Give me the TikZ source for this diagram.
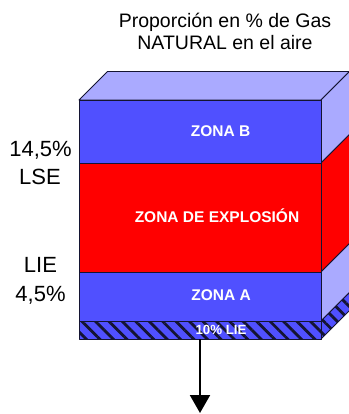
\documentclass[tikz,border=0pt]{standalone}
\usepackage{fontspec}
\setmainfont{Liberation Sans}
\usetikzlibrary{patterns.meta,arrows.meta}
\definecolor{zblue}{RGB}{80,80,255}
\definecolor{zlight}{RGB}{170,170,255}
\definecolor{zred}{RGB}{255,0,0}
\definecolor{zline}{RGB}{20,20,50}
\tikzset{
  face/.style={draw=zline, line width=0.9pt, line join=round},
  hatchface/.style={face, fill=zblue, postaction={pattern={Lines[angle=-45,distance=9.5pt,line width=2.8pt]}, pattern color=zline}},
  zonetext/.style={font=\bfseries\fontsize{15.5}{18}\selectfont, text=white, anchor=base, inner sep=0pt},
  sidetext/.style={font=\fontsize{22}{26}\selectfont, anchor=base, inner sep=0pt},
  titletext/.style={font=\fontsize{19.5}{22}\selectfont, anchor=base, inner sep=0pt},
  arrowline/.style={line width=2pt, -{Triangle[width=20pt,length=18pt]}}
}
\begin{document}
\begin{tikzpicture}[x=1pt,y=-1pt]
\useasboundingbox (0,0) rectangle (348,414);
% top face
\filldraw[face, fill=zlight] (79,100) -- (107.5,71.5) -- (349.5,71.5) -- (321,100) -- cycle;
% right faces
\filldraw[face, fill=zlight] (321,100) -- (349.5,71.5) -- (349.5,134.5) -- (321,163) -- cycle;
\filldraw[face, fill=zred] (321,163) -- (349.5,134.5) -- (349.5,243.5) -- (321,272) -- cycle;
\filldraw[face, fill=zlight] (321,272) -- (349.5,243.5) -- (349.5,292.5) -- (321,321) -- cycle;
\draw[hatchface] (321,321) -- (349.5,292.5) -- (349.5,310.5) -- (321,339) -- cycle;
% front faces
\filldraw[face, fill=zblue] (79,100) rectangle (321,163);
\filldraw[face, fill=zred] (79,163) rectangle (321,272);
\filldraw[face, fill=zblue] (79,272) rectangle (321,321);
\draw[hatchface] (79,321) rectangle (321,339);
% texts
\node[zonetext] (zb) at (220.5,137) {ZONA B};
\node[zonetext] (zx) at (217,222.5) {ZONA DE EXPLOSIÓN};
\node[zonetext] (za) at (221,300) {ZONA A};
\node[zonetext, font=\bfseries\fontsize{13.3}{15}\selectfont] (zl) at (221,334.5) {10\% LIE};
\node[sidetext] (s1) at (40.5,156.5) {14,5\%};
\node[sidetext] (s2) at (40,184) {LSE};
\node[sidetext] (s3) at (40.5,272.5) {LIE};
\node[sidetext] (s4) at (40.5,301) {4,5\%};
\node[titletext] (t1) at (225,28) {Proporción en \% de Gas};
\node[titletext] (t2) at (225,50) {NATURAL en el aire};
% arrow
\coordinate (boxbottom) at (200,339);
\coordinate (arrowend) at (200,413);
\draw[arrowline] (boxbottom) -- (arrowend);
\end{tikzpicture}
\end{document}
